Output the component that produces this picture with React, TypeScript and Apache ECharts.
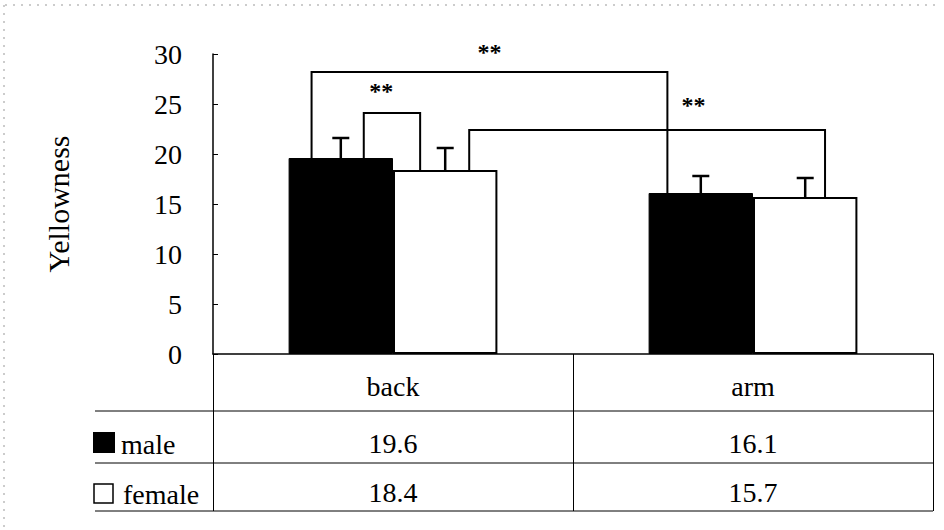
import React, { useEffect, useRef } from "react";
import * as echarts from "echarts";

const categories = ["back", "arm"];
const seriesNames = ["male", "female"];
const maleValues = [19.6, 16.1];
const femaleValues = [18.4, 15.7];
const maleSD = [2.0, 1.7];
const femaleSD = [2.2, 1.9];
const yTicks = [0, 5, 10, 15, 20, 25, 30];
const yAxisName = "Yellowness";
// significance brackets: [leftCategory, leftSeries, rightCategory, rightSeries, topValue]
const brackets = [
  [0, 0, 1, 0, 28.2],
  [0, 0, 0, 1, 24.1],
  [0, 1, 1, 1, 22.4],
];
const bracketLabels = ["**", "**", "**"];

// layout (not data)
const BAR_FRAC = 0.29;
const legOffsets = [
  [-0.28, -0.32],
  [0.22, -0.24],
  [0.23, 0.19],
];
const labelFrac = [0.5, 0.31, 0.63];
const labelRise = [24, 26, 29];
const FONT = "'Liberation Serif', 'Times New Roman', serif";
const FS = 28;

const allValues = [maleValues, femaleValues];
const allSD = [maleSD, femaleSD];

export default function App() {
  const ref = useRef<HTMLDivElement>(null);
  useEffect(() => {
    if (!ref.current) return;
    const chart = echarts.init(ref.current, undefined, { renderer: "svg" });

    const errData: number[][] = [];
    categories.forEach((_, i) => {
      allValues.forEach((vals, s) => {
        errData.push([i, s, vals[i], allSD[s][i]]);
      });
    });

    const barCenter = (api: any, cat: number, s: number, v: number) => {
      const band = api.size([1, 0])[0];
      const p = api.coord([cat, v]);
      const off = (band * BAR_FRAC) / 2 * (s === 0 ? -1 : 1);
      return [p[0] + off, p[1], band * BAR_FRAC];
    };

    const option: any = {
      animation: false,
      backgroundColor: "#fff",
      grid: { left: 213, top: 54, right: 11, bottom: 176 },
      xAxis: {
        type: "category",
        data: categories,
        boundaryGap: true,
        axisLine: { show: true, lineStyle: { color: "#000", width: 1.5 } },
        axisTick: { show: true, length: 157, lineStyle: { color: "#000", width: 1 } },
        axisLabel: {
          color: "#000",
          fontSize: FS,
          fontFamily: FONT,
          margin: 32,
          verticalAlign: "middle",
        },
        splitLine: { show: false },
      },
      yAxis: {
        type: "value",
        min: yTicks[0],
        max: yTicks[yTicks.length - 1],
        interval: 5,
        name: yAxisName,
        nameLocation: "middle",
        nameRotate: 90,
        nameGap: 140,
        nameTextStyle: { color: "#000", fontSize: 30, fontFamily: FONT },
        axisLine: { show: true, lineStyle: { color: "#000", width: 1.5 } },
        axisTick: { show: true, inside: true, length: 5, lineStyle: { color: "#000" } },
        axisLabel: { color: "#000", fontSize: FS, fontFamily: FONT, margin: 31 },
        splitLine: { show: false },
      },
      series: [
        {
          name: seriesNames[0],
          type: "bar",
          data: maleValues,
          barWidth: BAR_FRAC * 100 + "%",
          barGap: "0%",
          itemStyle: { color: "#000", borderColor: "#000", borderWidth: 1 },
          z: 2,
        },
        {
          name: seriesNames[1],
          type: "bar",
          data: femaleValues,
          barWidth: BAR_FRAC * 100 + "%",
          barGap: "0%",
          itemStyle: { color: "#fff", borderColor: "#000", borderWidth: 2 },
          z: 2,
        },
        {
          type: "custom",
          name: "errors",
          data: errData,
          encode: { x: 0, y: 2 },
          z: 3,
          renderItem: (params: any, api: any) => {
            const cat = api.value(0);
            const s = api.value(1);
            const v = api.value(2);
            const sd = api.value(3);
            const [x, y0] = barCenter(api, cat, s, v);
            const y1 = api.coord([cat, v + sd])[1];
            const st = { stroke: "#000", lineWidth: 2.5 };
            return {
              type: "group",
              children: [
                { type: "line", shape: { x1: x, y1: y0, x2: x, y2: y1 }, style: st },
                { type: "line", shape: { x1: x - 8.5, y1: y1, x2: x + 8.5, y2: y1 }, style: st },
              ],
            };
          },
        },
        {
          type: "custom",
          name: "brackets",
          data: brackets.map((b, k) => [b[0], b[4], k]),
          encode: { x: 0, y: 1 },
          z: 4,
          renderItem: (params: any, api: any) => {
            const k = api.value(2);
            const b = brackets[k];
            const [lc, ls, rc, rs, top] = b;
            const L = barCenter(api, lc, ls, allValues[ls][lc]);
            const R = barCenter(api, rc, rs, allValues[rs][rc]);
            const xl = L[0] + legOffsets[k][0] * L[2];
            const xr = R[0] + legOffsets[k][1] * R[2];
            const yt = api.coord([lc, top])[1];
            const st = { stroke: "#000", lineWidth: 2, fill: null };
            return {
              type: "group",
              children: [
                {
                  type: "polyline",
                  shape: { points: [[xl, L[1]], [xl, yt], [xr, yt], [xr, R[1]]] },
                  style: st,
                },
                {
                  type: "text",
                  x: xl + (xr - xl) * labelFrac[k],
                  y: yt - labelRise[k] + 4,
                  style: {
                    text: bracketLabels[k],
                    fill: "#000",
                    font: `bold 24px ${FONT}`,
                    align: "center",
                    verticalAlign: "middle",
                  },
                },
              ],
            };
          },
        },
        {
          type: "custom",
          name: "table",
          data: categories.map((_, i) => [i, 0]),
          encode: { x: 0, y: 1 },
          z: 4,
          renderItem: (params: any, api: any) => {
            const i = api.value(0);
            const p = api.coord([i, 0]);
            const mk = (txt: string, y: number) => ({
              type: "text",
              x: p[0],
              y: y,
              style: {
                text: txt,
                fill: "#000",
                font: `${FS}px ${FONT}`,
                align: "center",
                verticalAlign: "middle",
              },
            });
            return {
              type: "group",
              children: [
                mk(maleValues[i].toFixed(1), p[1] + 89),
                mk(femaleValues[i].toFixed(1), p[1] + 138),
              ],
            };
          },
        },
      ],
      graphic: [
        { type: "line", shape: { x1: 95, y1: 411, x2: 933, y2: 411 }, style: { stroke: "#000", lineWidth: 1 } },
        { type: "line", shape: { x1: 95, y1: 463, x2: 933, y2: 463 }, style: { stroke: "#000", lineWidth: 1 } },
        { type: "line", shape: { x1: 95, y1: 511, x2: 933, y2: 511 }, style: { stroke: "#000", lineWidth: 1 } },
        { type: "rect", shape: { x: 93, y: 432, width: 22, height: 21 }, style: { fill: "#000" } },
        { type: "rect", shape: { x: 94, y: 484, width: 19, height: 19 }, style: { fill: "#fff", stroke: "#000", lineWidth: 1.5 } },
        {
          type: "text",
          x: 121,
          y: 444,
          style: { text: seriesNames[0], fill: "#000", font: `${FS}px ${FONT}`, verticalAlign: "middle" },
        },
        {
          type: "text",
          x: 123,
          y: 494,
          style: { text: seriesNames[1], fill: "#000", font: `${FS}px ${FONT}`, verticalAlign: "middle" },
        },
        { type: "line", shape: { x1: 5, y1: 5, x2: 940, y2: 5 }, style: { stroke: "#999", lineWidth: 1, lineDash: [2, 6] } },
        { type: "line", shape: { x1: 4, y1: 5, x2: 4, y2: 528 }, style: { stroke: "#999", lineWidth: 1, lineDash: [2, 6] } },
      ],
    };
    chart.setOption(option);
    return () => chart.dispose();
  }, []);
  return (
    <div
      ref={ref}
      style={{ position: "absolute", left: 0, top: 0, width: 944, height: 530, background: "#fff" }}
    />
  );
}
